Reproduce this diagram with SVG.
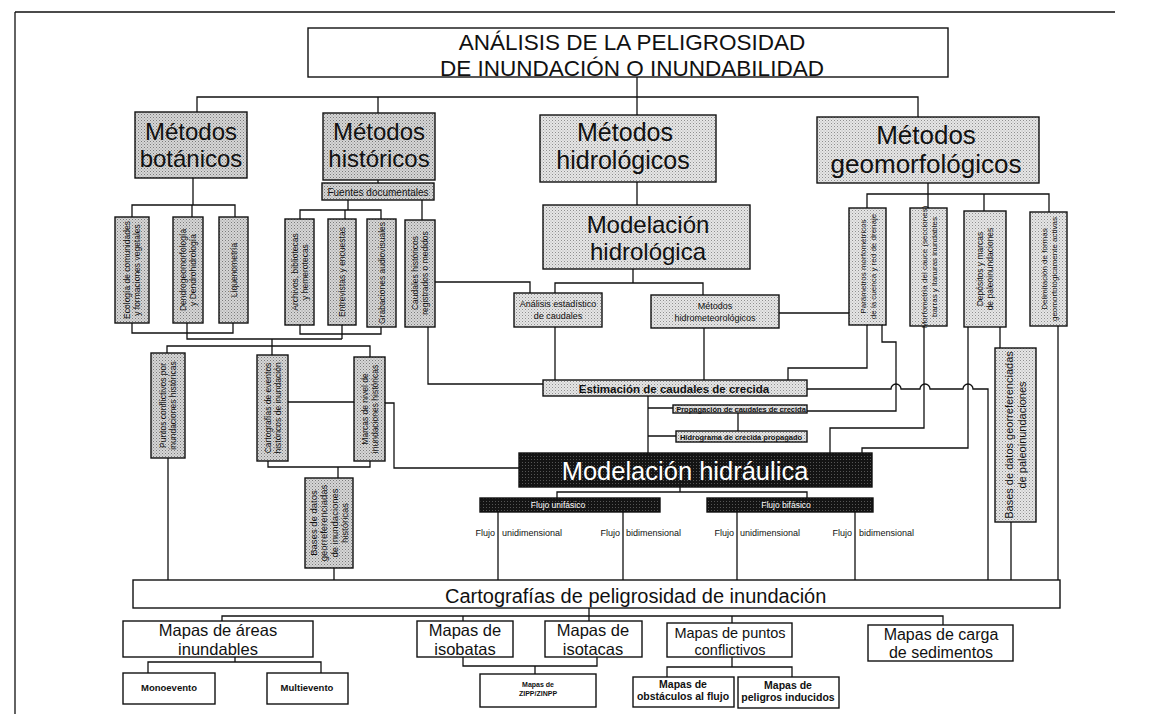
<svg xmlns="http://www.w3.org/2000/svg" width="1156" height="714" viewBox="0 0 1156 714">
<defs>
<pattern id="pA" width="3" height="3" patternUnits="userSpaceOnUse"><rect width="3" height="3" fill="#d6d6d6"/><rect width="1" height="1" fill="#7a7a7a"/><rect x="1.5" y="1.5" width="1" height="1" fill="#959595"/></pattern>
<pattern id="pB" width="3" height="3" patternUnits="userSpaceOnUse"><rect width="3" height="3" fill="#e6e6e6"/><rect width="1" height="1" fill="#8f8f8f"/><rect x="1.5" y="1.5" width="1" height="1" fill="#b0b0b0"/></pattern>
<pattern id="pD" width="3" height="3" patternUnits="userSpaceOnUse"><rect width="3" height="3" fill="#141414"/><rect width="1" height="1" fill="#555"/></pattern>
</defs>
<style>
text{font-family:'Liberation Sans',Arial,Helvetica,sans-serif;fill:#111}
.b{stroke:#111;stroke-width:1.4}
.gA{fill:url(#pA)}
.gB{fill:url(#pB)}
.gS{fill:url(#pA)}
.w{fill:#fff}
.dk{fill:url(#pD)}
.ln{fill:none;stroke:#111;stroke-width:1.3}
.c{text-anchor:middle}
.v{text-anchor:middle;font-size:8.5px}
.wt{fill:#fff}
</style>
<rect width="1156" height="714" fill="#fff"/>
<g id="border" class="ln"><path d="M15,12 H1115 M15,12 V714"/></g>

<g id="connectors" class="ln">
<path d="M637,77 V115 M197,112 V97 H918 V117 M378,97 V113"/>
<path d="M193,178 V205 M132,217 V205 H235 V217 M192,205 V217"/>
<path d="M132,323 V333 H233 V323 M187,323 V339 H342 M272,339 V346"/>
<path d="M378,180 V183 M348,200 V210 M300,219 V210 H381 V219 M345,210 V219 M422,200 V220"/>
<path d="M300,325 V334 H381 V327 M342,325 V339"/>
<path d="M167,353 V346 H370 V357 M272,346 V355"/>
<path d="M428,327 V384 H543 M435,282 H530 V293"/>
<path d="M288,402 H354 M385,403 H394 V468 H519"/>
<path d="M268,461 V467 H370 V461 M338,467 V478 M334,568 V580 M168,458 V580"/>
<path d="M637,182 V205 M633,269 V283 M555,293 V283 H703 V295"/>
<path d="M555,327 V380 M704,328 V380 M779,313 H849"/>
<path d="M648,396 V453 M648,408 H673 M648,436 H676 M738,413 V431"/>
<path d="M928,183 V208 M867,208 V194 H1049 V212 M984,194 V211"/>
<path d="M867,325 V368 H788 V380 M882,325 V342 H896 V411 H807"/>
<path d="M807,389 H891 a5,5 0 0 1 10,0 H920 a5,5 0 0 1 10,0 H963 a5,5 0 0 1 10,0 H988 V580"/>
<path d="M924,326 V428 H830 V453 M968,327 V448 H862 V453"/>
<path d="M1000,327 V348 M1011,522 V580 M1058,326 V580"/>
<path d="M680,487 V492 M557,498 V492 H807 V498"/>
<path d="M498,512 V580 M623,512 V580 M737,512 V580 M855,512 V580"/>
<path d="M589,608 V621 M222,621 V616 H943 V625 M463,616 V621 M732,616 V623"/>
<path d="M235,657 V662 M148,673 V662 H321 V673"/>
<path d="M463,657 V666 H597 V657 M535,666 V674"/>
<path d="M732,657 V667 M667,677 V667 H792 V677"/>
</g>

<g id="n-titulo"><rect class="b w" x="308" y="28" width="640" height="49"/>
<text class="c" font-size="22.5"><tspan x="632" y="50">ANÁLISIS DE LA PELIGROSIDAD</tspan><tspan x="632" y="75.5">DE INUNDACIÓN O INUNDABILIDAD</tspan></text></g>

<g id="n-botanicos"><rect class="b gA" x="135" y="112" width="112" height="66"/>
<text class="c" font-size="24"><tspan x="191" y="140">Métodos</tspan><tspan x="191" y="167">botánicos</tspan></text></g>
<g id="n-historicos"><rect class="b gA" x="323" y="113" width="112" height="67"/>
<text class="c" font-size="24"><tspan x="379" y="140">Métodos</tspan><tspan x="379" y="167">históricos</tspan></text></g>
<g id="n-hidrologicos"><rect class="b gB" x="540" y="115" width="176" height="67"/>
<text class="c" font-size="25"><tspan x="625" y="141">Métodos</tspan><tspan x="623" y="169">hidrológicos</tspan></text></g>
<g id="n-geomorfologicos"><rect class="b gB" x="817" y="117" width="222" height="66"/>
<text class="c" font-size="26"><tspan x="926" y="144">Métodos</tspan><tspan x="926" y="173">geomorfológicos</tspan></text></g>

<g id="n-fuentes"><rect class="b gS" x="322" y="183" width="112" height="17"/>
<text class="c" x="378" y="195.5" font-size="10">Fuentes documentales</text></g>

<g id="n-ecologia"><rect class="b gS" x="115" y="217" width="34" height="106"/>
<text class="v" transform="translate(132,270) rotate(-90)"><tspan x="0" y="-2">Ecología de comunidades</tspan><tspan x="0" y="8">y formaciones vegetales</tspan></text></g>
<g id="n-dendro"><rect class="b gS" x="173" y="217" width="30" height="106"/>
<text class="v" transform="translate(188,270) rotate(-90)"><tspan x="0" y="-2">Dendrogeomorfología</tspan><tspan x="0" y="8">y Dendrohidrología</tspan></text></g>
<g id="n-liquen"><rect class="b gS" x="219" y="217" width="29" height="106"/>
<text class="v" transform="translate(233.5,270) rotate(-90)"><tspan x="0" y="3">Liquenometría</tspan></text></g>

<g id="n-archivos"><rect class="b gS" x="285" y="219" width="29" height="106"/>
<text class="v" transform="translate(299.5,272) rotate(-90)"><tspan x="0" y="-2">Archivos, bibliotecas</tspan><tspan x="0" y="8">y hemerotecas</tspan></text></g>
<g id="n-entrevistas"><rect class="b gS" x="328" y="219" width="28" height="106"/>
<text class="v" transform="translate(342,272) rotate(-90)"><tspan x="0" y="3">Entrevistas y encuestas</tspan></text></g>
<g id="n-grabaciones"><rect class="b gS" x="367" y="219" width="29" height="108"/>
<text class="v" transform="translate(381.5,273) rotate(-90)"><tspan x="0" y="3">Grabaciones audiovisuales</tspan></text></g>
<g id="n-caudaleshist"><rect class="b gS" x="405" y="220" width="30" height="107"/>
<text class="v" transform="translate(420,273) rotate(-90)"><tspan x="0" y="-2">Caudales históricos</tspan><tspan x="0" y="8">registrados o medidos</tspan></text></g>

<g id="n-puntos"><rect class="b gS" x="151" y="353" width="34" height="105"/>
<text class="v" transform="translate(168,405.5) rotate(-90)"><tspan x="0" y="-2">Puntos conflictivos por</tspan><tspan x="0" y="8">inundaciones históricas</tspan></text></g>
<g id="n-cartoeventos"><rect class="b gS" x="257" y="355" width="31" height="106"/>
<text class="v" transform="translate(272.5,408) rotate(-90)"><tspan x="0" y="-2">Cartografías de eventos</tspan><tspan x="0" y="8">históricos de inundación</tspan></text></g>
<g id="n-marcas"><rect class="b gS" x="354" y="357" width="31" height="104"/>
<text class="v" transform="translate(369.5,409) rotate(-90)"><tspan x="0" y="-2">Marcas de nivel de</tspan><tspan x="0" y="8">inundaciones históricas</tspan></text></g>
<g id="n-baseshist"><rect class="b gS" x="305" y="478" width="48" height="90"/>
<text class="v" style="font-size:9.5px" transform="translate(329,523) rotate(-90)"><tspan x="0" y="-12.5">Bases de datos</tspan><tspan x="0" y="-2">georreferenciadas</tspan><tspan x="0" y="8.5">de inundaciones</tspan><tspan x="0" y="19">históricas</tspan></text></g>

<g id="n-modhidrologica"><rect class="b gB" x="543" y="205" width="207" height="64"/>
<text class="c" font-size="24"><tspan x="648" y="233">Modelación</tspan><tspan x="648" y="260">hidrológica</tspan></text></g>
<g id="n-analisis"><rect class="b gB" x="514" y="293" width="88" height="34"/>
<text class="c" font-size="9"><tspan x="558" y="307">Análisis estadístico</tspan><tspan x="558" y="319">de caudales</tspan></text></g>
<g id="n-hidromet"><rect class="b gB" x="651" y="295" width="128" height="33"/>
<text class="c" font-size="9"><tspan x="715" y="309">Métodos</tspan><tspan x="715" y="321">hidrometeorológicos</tspan></text></g>

<g id="n-parametros"><rect class="b gB" x="849" y="208" width="37" height="117"/>
<text class="v" style="font-size:8px" transform="translate(867.5,266.5) rotate(-90)"><tspan x="0" y="-2">Parámetros morfométricos</tspan><tspan x="0" y="8">de la cuenca y red de drenaje</tspan></text></g>
<g id="n-morfometria"><rect class="b gB" x="910" y="208" width="37" height="118"/>
<text class="v" style="font-size:8px" transform="translate(928.5,267) rotate(-90)"><tspan x="0" y="-2">Morfometría del cauce (secciones)</tspan><tspan x="0" y="8">barras y llanuras inundables</tspan></text></g>
<g id="n-depositos"><rect class="b gB" x="964" y="211" width="42" height="116"/>
<text class="v" style="font-size:8.5px" transform="translate(985,269) rotate(-90)"><tspan x="0" y="-2">Depósitos y marcas</tspan><tspan x="0" y="8">de paleoinundaciones</tspan></text></g>
<g id="n-delimitacion"><rect class="b gB" x="1030" y="212" width="37" height="114"/>
<text class="v" style="font-size:8px" transform="translate(1048.5,269) rotate(-90)"><tspan x="0" y="-2">Delimitación de formas</tspan><tspan x="0" y="8">geomorfológicamente activas</tspan></text></g>
<g id="n-basespaleo"><rect class="b gB" x="995" y="348" width="41" height="174"/>
<text class="v" style="font-size:11px" transform="translate(1015.5,435) rotate(-90)"><tspan x="0" y="-2.5">Bases de datos georreferenciadas</tspan><tspan x="0" y="10">de paleoinundaciones</tspan></text></g>

<g id="n-estimacion"><rect class="b gB" x="543" y="380" width="264" height="16"/>
<text class="c" x="674" y="392.5" font-size="11.5" font-weight="bold">Estimación de caudales de crecida</text></g>
<g id="n-propagacion"><rect class="b gB" x="673" y="405" width="134" height="8"/>
<text class="c" x="741" y="412" font-size="7.5" font-weight="bold">Propagación de caudales de crecida</text></g>
<g id="n-hidrograma"><rect class="b gB" x="676" y="431" width="131" height="11"/>
<text class="c" x="741" y="439.5" font-size="7.5" font-weight="bold">Hidrograma de crecida propagado</text></g>

<g id="n-modhidraulica"><rect class="b dk" x="519" y="453" width="353" height="34"/>
<text class="c wt" x="685" y="480" font-size="25.5">Modelación hidráulica</text></g>
<g id="n-unifasico"><rect class="b dk" x="480" y="498" width="180" height="14"/>
<text class="c wt" x="558" y="508" font-size="8.5">Flujo unifásico</text></g>
<g id="n-bifasico"><rect class="b dk" x="707" y="498" width="166" height="14"/>
<text class="c wt" x="786" y="508" font-size="8.5">Flujo bifásico</text></g>

<g id="labels-flujo">
<text x="495" y="536" text-anchor="end" font-size="9">Flujo</text><text x="502" y="536" font-size="9">unidimensional</text>
<text x="620" y="536" text-anchor="end" font-size="9">Flujo</text><text x="626" y="536" font-size="9">bidimensional</text>
<text x="734" y="536" text-anchor="end" font-size="9">Flujo</text><text x="740" y="536" font-size="9">unidimensional</text>
<text x="852" y="536" text-anchor="end" font-size="9">Flujo</text><text x="859" y="536" font-size="9">bidimensional</text>
</g>

<g id="n-cartografias"><rect class="b w" x="133" y="580" width="927" height="28"/>
<text x="445" y="603" font-size="20">Cartografías de peligrosidad de inundación</text></g>

<g id="n-areas"><rect class="b w" x="123" y="621" width="190" height="36"/>
<text class="c" font-size="16.5"><tspan x="218" y="636">Mapas de áreas</tspan><tspan x="218" y="654.5">inundables</tspan></text></g>
<g id="n-isobatas"><rect class="b w" x="417" y="621" width="96" height="36"/>
<text class="c" font-size="16.5"><tspan x="465" y="636">Mapas de</tspan><tspan x="465" y="654.5">isobatas</tspan></text></g>
<g id="n-isotacas"><rect class="b w" x="545" y="621" width="97" height="36"/>
<text class="c" font-size="16.5"><tspan x="593" y="636">Mapas de</tspan><tspan x="593" y="654.5">isotacas</tspan></text></g>
<g id="n-puntosmapa"><rect class="b w" x="667" y="623" width="125" height="34"/>
<text class="c" font-size="14.5"><tspan x="730" y="638">Mapas de puntos</tspan><tspan x="730" y="654.5">conflictivos</tspan></text></g>
<g id="n-carga"><rect class="b w" x="868" y="625" width="145" height="36"/>
<text class="c" font-size="16"><tspan x="941" y="640">Mapas de carga</tspan><tspan x="941" y="658">de sedimentos</tspan></text></g>

<g id="n-monoevento"><rect class="b w" x="123" y="673" width="92" height="31"/>
<text class="c" x="169" y="691" font-size="9.5" font-weight="bold">Monoevento</text></g>
<g id="n-multievento"><rect class="b w" x="267" y="673" width="81" height="31"/>
<text class="c" x="307" y="691" font-size="9.5" font-weight="bold">Multievento</text></g>
<g id="n-zipp"><rect class="b w" x="480" y="674" width="116" height="33"/>
<text class="c" font-size="7" font-weight="bold"><tspan x="538" y="687">Mapas de</tspan><tspan x="538" y="696">ZIPP/ZINPP</tspan></text></g>
<g id="n-obstaculos"><rect class="b w" x="633" y="677" width="101" height="30"/>
<text class="c" font-size="10.5" font-weight="bold"><tspan x="683" y="688">Mapas de</tspan><tspan x="683" y="700">obstáculos al flujo</tspan></text></g>
<g id="n-peligros"><rect class="b w" x="738" y="677" width="101" height="31"/>
<text class="c" font-size="10.5" font-weight="bold"><tspan x="788" y="689">Mapas de</tspan><tspan x="788" y="701">peligros inducidos</tspan></text></g>
</svg>
